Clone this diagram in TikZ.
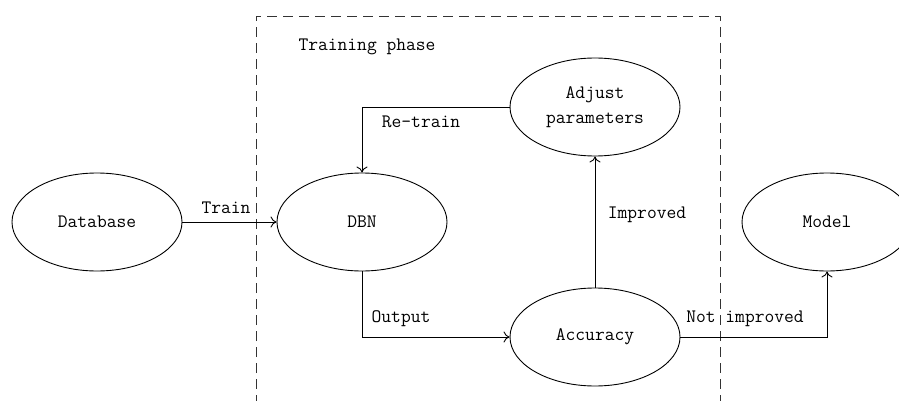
\documentclass[tikz,border=0pt]{standalone}
\usetikzlibrary{shapes.geometric,arrows.meta}
\begin{document}
\begin{tikzpicture}[x=1pt,y=-1pt,
  font=\ttfamily\fontsize{19}{23}\selectfont,
  oval/.style={draw,ellipse,line width=0.9pt,minimum width=170pt,minimum height=98pt,inner sep=0pt,align=center},
  flow/.style={draw,line width=0.9pt,-{To[length=6pt,width=11pt]}},
  lbl/.style={inner sep=0pt},
  phasebox/.style={draw=black!80,line width=0.9pt,dash pattern=on 10pt off 6pt}]
\useasboundingbox (0,0) rectangle (899,401);
\clip (0,0) rectangle (899,401);

% training phase frame (open at the bottom)
\draw[phasebox] (256,405) -- (256,16) -- (720,16) -- (720,405);
\node[lbl] (phase) at (367,47) {Training phase};

% nodes
\node[oval] (db)  at (97,222)  {Database};
\node[oval] (dbn) at (362,222) {DBN};
\node[oval] (adj) at (595,107) {Adjust\\[2pt]parameters};
\node[oval] (acc) at (595,337) {Accuracy};
\node[oval] (mdl) at (827,222) {Model};

% connectors
\draw[flow] (db) -- (dbn);
\draw[flow] (adj.west) -| (dbn.north);
\draw[flow] (dbn.south) |- (acc.west);
\draw[flow] (acc) -- (adj);
\draw[flow] (acc.east) -| (mdl.south);

% connector labels
\node[lbl] (ltrain) at (226,208) {Train};
\node[lbl] (lre)    at (421,122) {Re-train};
\node[lbl] (lout)   at (401,319) {Output};
\node[lbl] (limp)   at (647,215) {Improved};
\node[lbl] (lnot)   at (745,319) {Not improved};
\end{tikzpicture}
\end{document}
